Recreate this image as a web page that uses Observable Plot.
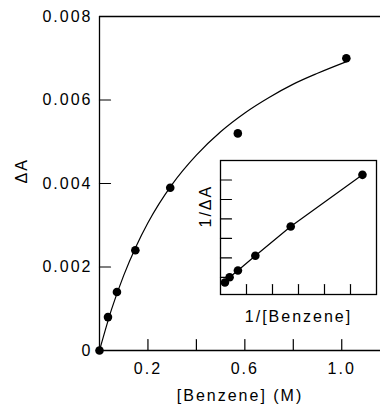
<!DOCTYPE html>
<html>
<head>
<meta charset="utf-8">
<script src="https://cdn.jsdelivr.net/npm/d3@7"></script>
<script src="https://cdn.jsdelivr.net/npm/@observablehq/plot@0.6"></script>
<style>
  html, body { margin: 0; padding: 0; background: #fff; }
  #wrap { position: relative; width: 380px; height: 404px; overflow: hidden; }
  #wrap svg { display: block; }
  #inset { position: absolute; left: 0; top: 0; }
</style>
</head>
<body>
<div id="wrap"><div id="main"></div><div id="inset"></div></div>
<script>
// Main panel: ΔA vs [Benzene]
const conc = [0, 0.035, 0.072, 0.148, 0.292, 0.571, 1.019];
const deltaA = [0, 0.0008, 0.0014, 0.0024, 0.0039, 0.0052, 0.0070];
// fitted binding curve
const fitConc = [0, 0.05, 0.1, 0.15, 0.2, 0.3, 0.4, 0.5, 0.6, 0.7, 0.8, 0.9, 1.02];
const fitDeltaA = [0, 0.00099, 0.0018, 0.00248, 0.00306, 0.00398, 0.00468, 0.00524, 0.00569, 0.00606, 0.00638, 0.00664, 0.00692];
const xTicks = [0.2, 0.4, 0.6, 0.8, 1.0];
const xTickLabels = [0.2, 0.6, 1.0];
const yTicks = [0, 0.002, 0.004, 0.006, 0.008];
const yInnerTicks = [0.002, 0.004, 0.006];
const xLabel = "[Benzene] (M)";
const yLabel = "ΔA";

// Inset: double-reciprocal plot
const invConc = [0.85, 1.75, 3.35, 6.7, 13.5, 27.3];
const invDeltaA = [148, 202, 271, 422, 723, 1253];
const insetXTicks = [5, 10, 15, 20, 25];
const insetYTicks = [200, 400, 600, 800, 1000, 1200];
const insetXLabel = "1/[Benzene]";
const insetYLabel = "1/ΔA";

const points = conc.map((c, i) => ({x: c, y: deltaA[i]}));
const fit = fitConc.map((c, i) => ({x: c, y: fitDeltaA[i]}));
const insetPoints = invConc.map((c, i) => ({x: c, y: invDeltaA[i]}));

const tickShape = {draw(context, l) { context.moveTo(0, 0); context.lineTo(0, -l); }};
const font = {fontFamily: "'Liberation Sans', Arial, sans-serif", fontSize: "16px", letterSpacing: "2px", color: "#000", background: "transparent", overflow: "visible"};

const main = Plot.plot({
  width: 380, height: 404,
  marginLeft: 99, marginRight: 0, marginTop: 16, marginBottom: 54,
  style: font,
  x: {domain: [0, 1.16], ticks: xTickLabels, tickFormat: d => d.toFixed(1), tickSize: 0, tickPadding: 12, label: null},
  y: {domain: [0, 0.008], ticks: yTicks, tickFormat: d => d === 0 ? "0" : d.toFixed(3), tickSize: 0, tickPadding: 7, label: null},
  marks: [
    Plot.ruleX([0], {stroke: "#000", strokeWidth: 1.3}),
    Plot.ruleY([0, 0.008], {stroke: "#000", strokeWidth: 1.3}),
    Plot.vector(xTicks, {x: d => d, frameAnchor: "bottom", length: 11, anchor: "start", rotate: 0, shape: tickShape, stroke: "#000", strokeWidth: 1.2}),
    Plot.vector(yInnerTicks, {y: d => d, frameAnchor: "left", length: 11, anchor: "start", rotate: 90, shape: tickShape, stroke: "#000", strokeWidth: 1.2}),
    Plot.line(fit, {x: "x", y: "y", curve: "monotone-x", stroke: "#000", strokeWidth: 1.2}),
    Plot.dot(points, {x: "x", y: "y", r: 4.3, fill: "#000", stroke: "none"}),
    Plot.text([xLabel], {text: d => d, frameAnchor: "bottom", dy: 50, lineAnchor: "bottom", fill: "#000"}),
    Plot.text([yLabel], {text: d => d, frameAnchor: "left", dx: -78, rotate: -90, fill: "#000"})
  ]
});
document.getElementById("main").appendChild(main);

const inset = Plot.plot({
  width: 380, height: 404,
  marginLeft: 220, marginRight: 4, marginTop: 160, marginBottom: 110,
  style: font,
  x: {domain: [0, 30], axis: null},
  y: {domain: [25, 1400], axis: null},
  marks: [
    Plot.frame({fill: "#fff", stroke: "#000", strokeWidth: 1.3}),
    Plot.vector(insetXTicks, {x: d => d, frameAnchor: "bottom", length: 10, anchor: "start", rotate: 0, shape: tickShape, stroke: "#000", strokeWidth: 1.2}),
    Plot.vector(insetYTicks, {y: d => d, frameAnchor: "left", length: 11, anchor: "start", rotate: 90, shape: tickShape, stroke: "#000", strokeWidth: 1.2}),
    Plot.line(insetPoints, {x: "x", y: "y", stroke: "#000", strokeWidth: 1.2}),
    Plot.dot(insetPoints, {x: "x", y: "y", r: 4.3, fill: "#000", stroke: "none"}),
    Plot.text([insetXLabel], {text: d => d, frameAnchor: "bottom", dy: 27, lineAnchor: "bottom", fill: "#000"}),
    Plot.text([insetYLabel], {text: d => d, frameAnchor: "left", dx: -15, rotate: -90, fill: "#000"})
  ]
});
document.getElementById("inset").appendChild(inset);
</script>
</body>
</html>
